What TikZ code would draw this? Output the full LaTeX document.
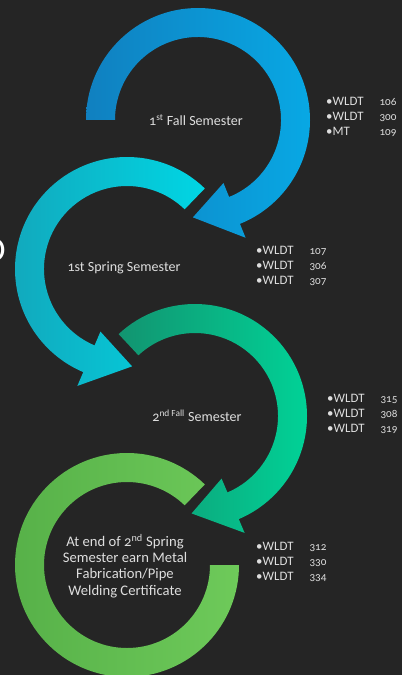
\documentclass[tikz,border=0pt]{standalone}
\usepackage{fontspec}
\setmainfont{Carlito}[Numbers=OldStyle]
\usetikzlibrary{calc}

\definecolor{fondo}{RGB}{37,37,37}
\definecolor{texto}{RGB}{222,222,222}
\definecolor{azulA}{RGB}{16,128,192}
\definecolor{azulB}{RGB}{8,168,228}
\definecolor{cianA}{RGB}{18,168,188}
\definecolor{cianB}{RGB}{0,214,228}
\definecolor{verdeA}{RGB}{18,148,112}
\definecolor{verdeB}{RGB}{0,212,152}
\definecolor{limaA}{RGB}{86,176,72}
\definecolor{limaB}{RGB}{110,202,90}

% una fila de la lista de cursos
\newcommand\curso[2]{\makebox[16mm][l]{\textbullet#1}{\fontsize{9.5}{12}\selectfont#2}}

\begin{document}
\begin{tikzpicture}[
    x=0.3mm, y=0.3mm,
    font=\fontsize{12}{14}\selectfont,
    % --- estilos ---
    anilloA/.style = {left color=azulA,  right color=azulB},
    anilloB/.style = {left color=cianA,  right color=cianB},
    anilloC/.style = {left color=verdeA, right color=verdeB},
    anilloD/.style = {left color=limaA,  right color=limaB},
    etq/.style     = {text=texto, align=center, inner sep=0pt},
    lista/.style   = {text=texto, align=left, anchor=north west, inner sep=0pt,
                      font=\fontsize{11}{13}\selectfont}
]

% ===================== FONDO =====================
\fill[fondo] (0,0) rectangle (402,-675);
\useasboundingbox (0,0) rectangle (402,-675);

% centros de los anillos
\coordinate (c1) at (198,-120);
\coordinate (c2) at (127,-269);
\coordinate (c3) at (195,-416);
\coordinate (c4) at (127,-565);

% ===================== ANILLOS =====================
% 1er otoño: sentido horario, flecha abajo
\shade[anilloA] ($(c1)+(180:112)$) arc[start angle=180, end angle=-68, radius=112]
    -- ($(c1)+(-68:127)$) -- ($(c1)+(-93:97.5)$) -- ($(c1)+(-68:68)$)
    -- ($(c1)+(-68:83)$) arc[start angle=-68, end angle=180, radius=83] -- cycle;

% 1a primavera: sentido antihorario
\shade[anilloB] ($(c2)+(46:112)$) arc[start angle=46, end angle=247, radius=112]
    -- ($(c2)+(247:127)$) -- ($(c2)+(273:97.5)$) -- ($(c2)+(247:68)$)
    -- ($(c2)+(247:83)$) arc[start angle=247, end angle=46, radius=83] -- cycle;

% 2o otoño
\shade[anilloC] ($(c3)+(133:112)$) arc[start angle=133, end angle=-67, radius=112]
    -- ($(c3)+(-67:127)$) -- ($(c3)+(-92:97.5)$) -- ($(c3)+(-67:68)$)
    -- ($(c3)+(-67:83)$) arc[start angle=-67, end angle=133, radius=83] -- cycle;

% 2a primavera: sin flecha
\shade[anilloD] ($(c4)+(46:112)$) arc[start angle=46, end angle=360, radius=112]
    -- ($(c4)+(0:83)$) arc[start angle=360, end angle=46, radius=83] -- cycle;

% ===================== ETIQUETAS =====================
\node[etq] (sem1) at (196,-120) {1\textsuperscript{st} Fall Semester};
\node[etq] (sem2) at (124,-268) {1st Spring Semester};
\node[etq] (sem3) at (197,-416) {2\textsuperscript{nd Fall} Semester};
\node[etq, font=\fontsize{12.5}{13.8}\selectfont] (sem4) at (125,-566)
    {At end of 2\textsuperscript{nd} Spring\\ Semester earn Metal\\ Fabrication/Pipe\\ Welding Certificate};

% ===================== CURSOS =====================
\node[lista] (cur1) at (326,-97)  {\curso{WLDT}{106}\\ \curso{WLDT}{300}\\ \curso{MT}{109}};
\node[lista] (cur2) at (256,-246) {\curso{WLDT}{107}\\ \curso{WLDT}{306}\\ \curso{WLDT}{307}};
\node[lista] (cur3) at (327,-394) {\curso{WLDT}{315}\\ \curso{WLDT}{308}\\ \curso{WLDT}{319}};
\node[lista] (cur4) at (256,-542) {\curso{WLDT}{312}\\ \curso{WLDT}{330}\\ \curso{WLDT}{334}};

% letra cortada en el borde izquierdo
\node[text=white, inner sep=0pt, anchor=east, font=\fontsize{30}{30}\selectfont] (borde) at (6,-250) {O};

\end{tikzpicture}
\end{document}
